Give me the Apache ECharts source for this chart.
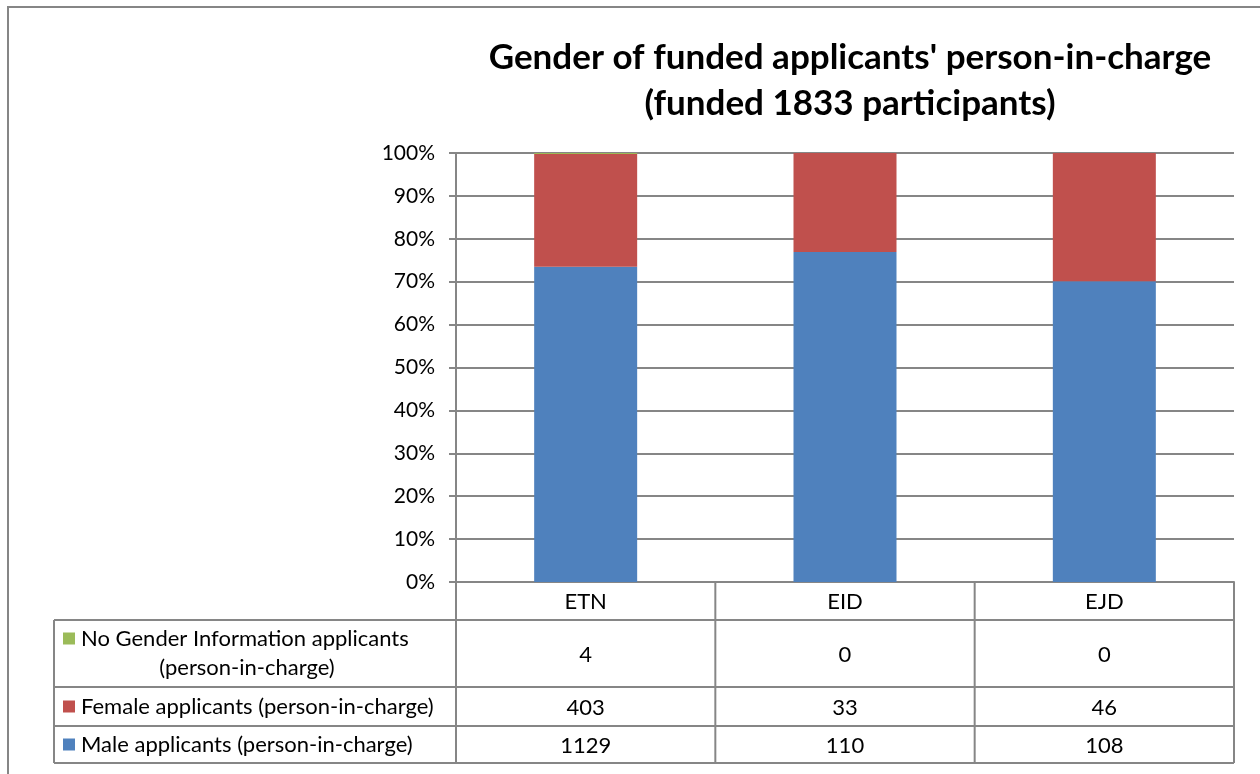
<!DOCTYPE html>
<html>
<head>
<meta charset="utf-8">
<script src="https://cdn.jsdelivr.net/npm/echarts@6/dist/echarts.min.js"></script>
<style>
  html, body { margin: 0; padding: 0; background: #fff; }
  #chart-box { width: 1260px; height: 774px; }
</style>
</head>
<body>
<div id="chart-box"></div>
<script>
const categories = ["ETN", "EID", "EJD"];
const maleCounts = [1129, 110, 108];
const femaleCounts = [403, 33, 46];
const noInfoCounts = [4, 0, 0];
const yTicks = [0, 10, 20, 30, 40, 50, 60, 70, 80, 90, 100];

const seriesDefs = [
  { name: "Male applicants (person-in-charge)", data: maleCounts, color: "#4F81BD" },
  { name: "Female applicants (person-in-charge)", data: femaleCounts, color: "#C0504D" },
  { name: "No Gender Information applicants\n(person-in-charge)", data: noInfoCounts, color: "#9BBB59" },
];

const totals = categories.map((c, i) => seriesDefs.reduce((s, d) => s + d.data[i], 0));
const FONT = "Lato, 'Open Sans', sans-serif";
const GRID = { left: 456, right: 26, top: 153, bottom: 192 };
const lineColor = "#868686";

const chart = echarts.init(document.getElementById("chart-box"));

const option = {
  animation: false,
  backgroundColor: "#fff",
  title: {
    text: "Gender of funded applicants' person-in-charge\n(funded 1833 participants)",
    left: 845,
    top: 30,
    textAlign: "center",
    textStyle: {
      fontFamily: FONT,
      fontWeight: "bold",
      fontSize: 35,
      lineHeight: 46,
      color: "#000",
    },
  },
  grid: GRID,
  xAxis: {
    type: "category",
    data: categories,
    axisLine: { show: true, lineStyle: { color: lineColor, width: 2 } },
    axisTick: { show: false },
    axisLabel: { show: false },
  },
  yAxis: {
    type: "value",
    min: yTicks[0],
    max: yTicks[yTicks.length - 1],
    interval: 10,
    axisLine: { show: true, lineStyle: { color: lineColor, width: 2 } },
    axisTick: { show: true, length: 7, lineStyle: { color: lineColor, width: 2 } },
    axisLabel: {
      formatter: "{value}%",
      fontFamily: FONT,
      fontSize: 21,
      color: "#000",
      margin: 21,
    },
    splitLine: { lineStyle: { color: lineColor, width: 2 } },
  },
  series: seriesDefs.map((d) => ({
    name: d.name,
    type: "bar",
    stack: "total",
    barWidth: 103,
    barMinHeight: 2,
    itemStyle: { color: d.color },
    z: 3,
    // zero counts are left out so they draw nothing
    data: d.data.map((v, i) => (v === 0 ? null : (v / totals[i]) * 100)),
  })),
};

chart.setOption(option);

// data table under the plot, laid out from the category axis
function drawTable() {
  const plotLeft = GRID.left;
  const plotRight = 1260 - GRID.right;
  const tableLeft = 54;
  const top0 = 774 - GRID.bottom;
  const rowHeights = [38, 67, 39, 37];
  const rowsOrder = [2, 1, 0];
  const ys = [top0];
  rowHeights.forEach((h) => ys.push(ys[ys.length - 1] + h));
  const centers = categories.map((c, i) => chart.convertToPixel({ xAxisIndex: 0 }, i));
  const half = (plotRight - plotLeft) / categories.length / 2;
  const bounds = [plotLeft].concat(centers.map((c) => c + half));
  bounds[bounds.length - 1] = plotRight;

  const els = [];
  const line = (x1, y1, x2, y2) =>
    els.push({
      type: "line",
      shape: { x1, y1, x2, y2 },
      style: { stroke: lineColor, lineWidth: 2 },
      silent: true,
    });
  const text = (x, y, t, align) =>
    els.push({
      type: "text",
      x,
      y,
      style: {
        text: t,
        fontFamily: FONT,
        fontSize: 22,
        fill: "#000",
        align: align || "center",
        verticalAlign: "middle",
      },
      silent: true,
    });

  // column lines
  bounds.forEach((x) => line(x, ys[0], x, ys[ys.length - 1]));
  line(tableLeft, ys[1], tableLeft, ys[ys.length - 1]);
  // row lines
  line(plotLeft, ys[0], plotRight, ys[0]);
  for (let r = 1; r < ys.length; r++) line(tableLeft, ys[r], plotRight, ys[r]);

  // header
  categories.forEach((c, i) => text(centers[i], (ys[0] + ys[1]) / 2 + 1, c));

  rowsOrder.forEach((si, r) => {
    const d = seriesDefs[si];
    const yMid = (ys[r + 1] + ys[r + 2]) / 2;
    const lines = d.name.split("\n");
    const keyY = lines.length > 1 ? yMid - 15 : yMid;
    els.push({
      type: "rect",
      shape: { x: 63, y: keyY - 6, width: 12, height: 12 },
      style: { fill: d.color },
      silent: true,
    });
    if (lines.length > 1) {
      text(81, yMid - 15, lines[0], "left");
      text(247, yMid + 14, lines[1], "center");
    } else {
      text(81, yMid, lines[0], "left");
    }
    d.data.forEach((v, i) => text(centers[i], yMid + 1, String(v)));
  });

  // outer frame of the chart area
  els.push({
    type: "polyline",
    shape: { points: [[8, 774], [8, 7], [1260, 7]] },
    style: { stroke: lineColor, lineWidth: 2, fill: null },
    silent: true,
  });

  chart.setOption({ graphic: { elements: els } });
}

drawTable();
</script>
</body>
</html>
